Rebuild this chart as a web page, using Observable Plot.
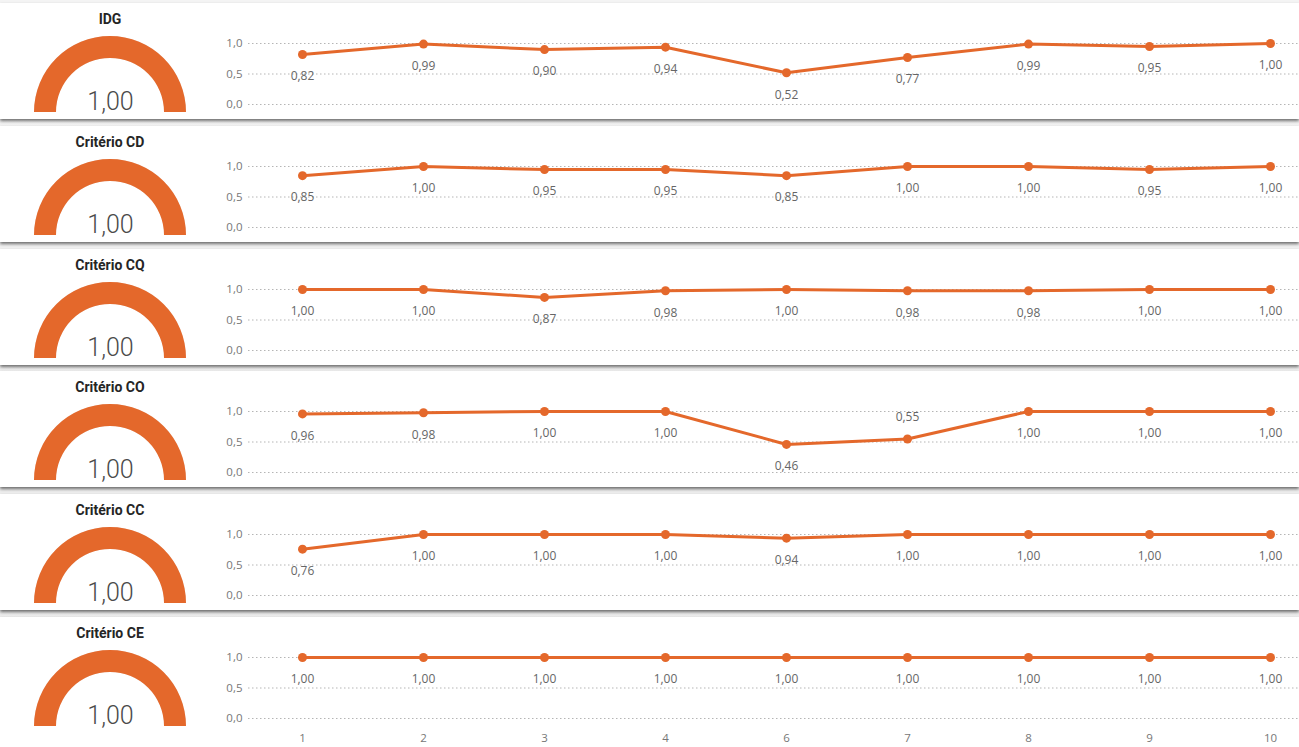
<!DOCTYPE html>
<html>
<head>
<meta charset="utf-8">
<script src="https://cdn.jsdelivr.net/npm/d3@7"></script>
<script src="https://cdn.jsdelivr.net/npm/@observablehq/plot@0.6"></script>
<style>
  html, body { margin: 0; padding: 0; }
  body { width: 1299px; height: 747px; overflow: hidden; background: #ebebeb; font-family: "Open Sans", sans-serif; }
  #root { position: relative; width: 1299px; height: 747px; overflow: hidden; background: linear-gradient(#f4f4f4, #ebebeb); }
  .card { position: absolute; left: 0; width: 1299px; background: #fff; box-shadow: 0 2px 3px rgba(0,0,0,0.55); }
  .title { position: absolute; left: 0; width: 220px; text-align: center; font-family: Roboto, sans-serif; font-weight: 700; font-size: 14px; color: #252525; }
  .gauge { position: absolute; left: 0; top: 0; }
  .line { position: absolute; left: 200px; top: 0; }
</style>
</head>
<body>
<div id="root"></div>
<script>
// ---- data ----
const periods = ["1", "2", "3", "4", "6", "7", "8", "9", "10"];
const seriesNames = ["IDG", "Critério CD", "Critério CQ", "Critério CO", "Critério CC", "Critério CE"];
const idg = [0.82, 0.99, 0.90, 0.94, 0.52, 0.77, 0.99, 0.95, 1.00];
const cd  = [0.85, 1.00, 0.95, 0.95, 0.85, 1.00, 1.00, 0.95, 1.00];
const cq  = [1.00, 1.00, 0.87, 0.98, 1.00, 0.98, 0.98, 1.00, 1.00];
const co  = [0.96, 0.98, 1.00, 1.00, 0.46, 0.55, 1.00, 1.00, 1.00];
const cc  = [0.76, 1.00, 1.00, 1.00, 0.94, 1.00, 1.00, 1.00, 1.00];
const ce  = [1.00, 1.00, 1.00, 1.00, 1.00, 1.00, 1.00, 1.00, 1.00];
const gaugeValues = [1.00, 1.00, 1.00, 1.00, 1.00, 1.00];
const gaugeMax = 1.00;
const yTicks = [0, 0.5, 1];
const labelAbove = [["Critério CO", "7"]];

const seriesValues = [idg, cd, cq, co, cc, ce];
const orange = "#E4682B";
const comma = (s) => s.replace(".", ",");
const fmt2 = (v) => comma(d3.format(".2f")(v));
const fmt1 = (v) => comma(d3.format(".1f")(v));

const root = document.getElementById("root");
const rowStep = 122.8;
const firstTick = 43;

seriesNames.forEach((name, i) => {
  const last = i === seriesNames.length - 1;
  const tick1 = firstTick + i * rowStep;
  const cardTop = tick1 - 40;
  const cardH = last ? 747 - cardTop : 116;
  const card = document.createElement("div");
  card.className = "card";
  card.style.top = cardTop + "px";
  card.style.height = cardH + "px";
  root.appendChild(card);

  // title
  const t = document.createElement("div");
  t.className = "title";
  t.style.top = "8px";
  t.textContent = name;
  card.appendChild(t);

  // gauge
  const gv = gaugeValues[i];
  const angle = d3.scaleLinear().domain([0, gaugeMax]).range([-Math.PI / 2, Math.PI / 2]);
  const cx = 110, cy = 109, rOut = 76, rIn = 54;
  const gauge = Plot.plot({
    width: 220, height: 116,
    margin: 0,
    x: {domain: [0, 220], range: [0, 220], axis: null},
    y: {domain: [0, 116], range: [0, 116], axis: null},
    style: {background: "transparent", overflow: "visible"},
    marks: [
      (index, scales) => {
        const g = d3.create("svg:g");
        const arc = d3.arc().innerRadius(rIn).outerRadius(rOut);
        g.append("path")
          .attr("transform", `translate(${scales.x(cx)},${scales.y(cy)})`)
          .attr("d", arc({startAngle: -Math.PI / 2, endAngle: Math.PI / 2}))
          .attr("fill", "#e9e9e9");
        g.append("path")
          .attr("transform", `translate(${scales.x(cx)},${scales.y(cy)})`)
          .attr("d", arc({startAngle: -Math.PI / 2, endAngle: angle(gv)}))
          .attr("fill", orange);
        return g.node();
      },
      Plot.text([gv], {
        x: () => cx, y: () => cy - 3, text: (d) => fmt2(d),
        fontSize: 25, fontWeight: 300, fill: "#4a4a4a", fontFamily: "Roboto, sans-serif",
        lineAnchor: "bottom"
      })
    ]
  });
  gauge.classList.add("gauge");
  card.appendChild(gauge);

  // line chart
  const rows = periods.map((p, k) => ({period: p, value: seriesValues[i][k]}));
  const isAbove = (d) => labelAbove.some(([s, p]) => s === name && p === d.period);
  const lineH = cardH;
  const chart = Plot.plot({
    width: 1099,
    height: lineH,
    marginTop: 40,
    marginBottom: lineH - 101,
    marginLeft: 48,
    marginRight: 0,
    x: {type: "point", domain: periods, range: [99, 1073], padding: 0, axis: null, label: null},
    y: {domain: [0, 1], axis: null, label: null},
    style: {background: "transparent", overflow: "visible", fontFamily: "'Open Sans', sans-serif"},
    marks: [
      Plot.gridY(yTicks, {stroke: "#b5b5b5", strokeOpacity: 1, strokeWidth: 1, strokeDasharray: "1.5,2.5"}),
      Plot.axisY(yTicks, {tickSize: 0, tickPadding: 6, tickFormat: fmt1, fill: "#777", fontSize: 11.5, label: null}),
      ...(last ? [Plot.axisX({tickSize: 0, tickPadding: 15, fill: "#777", fontSize: 11.5, label: null})] : []),
      Plot.line(rows, {x: "period", y: "value", stroke: orange, strokeWidth: 3}),
      Plot.dot(rows, {x: "period", y: "value", fill: orange, r: 4.5}),
      Plot.text(rows.filter((d) => !isAbove(d)), {x: "period", y: "value", text: (d) => fmt2(d.value), dy: 22, fill: "#666", fontSize: 12}),
      Plot.text(rows.filter(isAbove), {x: "period", y: "value", text: (d) => fmt2(d.value), dy: -22, fill: "#666", fontSize: 12})
    ]
  });
  chart.classList.add("line");
  card.appendChild(chart);
});
</script>
</body>
</html>
